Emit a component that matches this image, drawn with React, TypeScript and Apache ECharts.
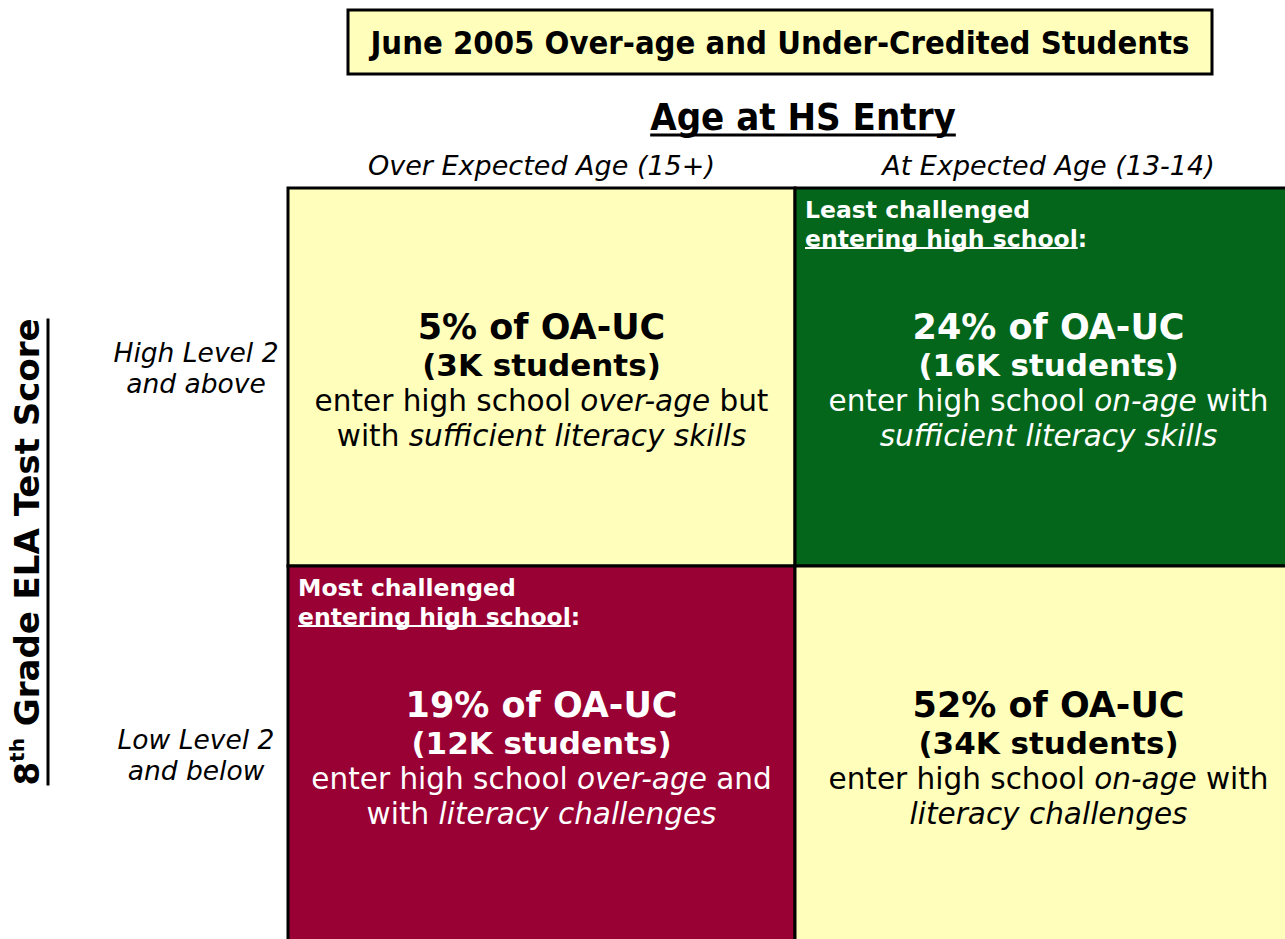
import { useEffect, useRef } from "react";
import * as echarts from "echarts";

// ---------- data ----------
const chartTitle = "June 2005 Over-age and Under-Credited Students";
const xAxisTitle = "Age at HS Entry";
const ageGroups = ["Over Expected Age (15+)", "At Expected Age (13-14)"];
const scoreGroups = ["High Level 2\nand above", "Low Level 2\nand below"];
const cellAge = [0, 1, 0, 1];
const cellScore = [0, 0, 1, 1];
const sharePct = [5, 24, 19, 52];
const studentsK = [3, 16, 12, 34];
const ageStatus = ["over-age", "on-age", "over-age", "on-age"];
const firstLineEnd = ["but", "with", "and", "with"];
const secondLineStart = ["with ", "", "with ", ""];
const literacy = [
  "sufficient literacy skills",
  "sufficient literacy skills",
  "literacy challenges",
  "literacy challenges",
];
const callouts = ["", "Least challenged", "Most challenged", ""];
const calloutSub = "entering high school";
const tones = ["neutral", "best", "worst", "neutral"];

// ---------- styles ----------
const SANS = "'DejaVu Sans', Verdana, sans-serif";
const COND = "'DejaVu Sans Condensed', 'DejaVu Sans', sans-serif";
const PALETTE: Record<string, { fill: string; ink: string }> = {
  neutral: { fill: "#FFFFBB", ink: "#000000" },
  best: { fill: "#03661A", ink: "#FFFFFF" },
  worst: { fill: "#990033", ink: "#FFFFFF" },
};

function measure(text: string, font: string): number {
  const ctx = document.createElement("canvas").getContext("2d");
  if (!ctx) return text.length * 10;
  ctx.font = font;
  return ctx.measureText(text).width;
}

export default function App() {
  const ref = useRef<HTMLDivElement>(null);

  useEffect(() => {
    if (!ref.current) return;
    const chart = echarts.init(ref.current, undefined, { renderer: "svg" });

    const cells = cellAge.map((a, i) => [a, cellScore[i], sharePct[i], studentsK[i]]);

    const renderItem = (params: any, api: any) => {
      const i = params.dataIndex;
      const c = api.coord([api.value(0), api.value(1)]);
      const s = api.size([1, 1]);
      const w = s[0];
      const h = s[1];
      const x0 = c[0] - w / 2;
      const y0 = c[1] - h / 2;
      const { fill, ink } = PALETTE[tones[i]];
      const text =
        `{b|${api.value(2)}% of OA-UC}\n` +
        `{s|(${api.value(3)}K students)}\n` +
        `{n|enter high school }{i|${ageStatus[i]}}{n| ${firstLineEnd[i]}}\n` +
        (secondLineStart[i] ? `{n|${secondLineStart[i]}}` : "") +
        `{i|${literacy[i]}}`;
      const children: any[] = [
        {
          type: "rect",
          shape: { x: x0, y: y0, width: w, height: h },
          style: { fill, stroke: "#000", lineWidth: 3 },
        },
        {
          type: "text",
          x: c[0],
          y: c[1] + 3,
          style: {
            text,
            align: "center",
            verticalAlign: "middle",
            fill: ink,
            fontFamily: SANS,
            rich: {
              b: { fontSize: 35, fontWeight: "bold", fontFamily: SANS, lineHeight: 40, fill: ink },
              s: { fontSize: 31, fontWeight: "bold", fontFamily: SANS, lineHeight: 36, fill: ink },
              n: { fontSize: 29.5, fontFamily: SANS, lineHeight: 35, fill: ink },
              i: { fontSize: 29.5, fontStyle: "italic", fontFamily: SANS, lineHeight: 35, fill: ink },
            },
          },
        },
      ];
      if (callouts[i]) {
        const uw = measure(calloutSub, `bold 23.5px "DejaVu Sans"`);
        children.push(
          {
            type: "text",
            x: x0 + 10,
            y: y0 + 7,
            style: {
              text: `{c|${callouts[i]}}\n{c|${calloutSub}:}`,
              align: "left",
              verticalAlign: "top",
              fill: ink,
              rich: {
                c: { fontSize: 23.5, fontWeight: "bold", fontFamily: SANS, lineHeight: 29, fill: ink },
              },
            },
          },
          {
            type: "line",
            shape: { x1: x0 + 10, y1: y0 + 60, x2: x0 + 10 + uw, y2: y0 + 60 },
            style: { stroke: ink, lineWidth: 2 },
          }
        );
      }
      return { type: "group", children };
    };

    const xNameW = measure(xAxisTitle, `bold 38px "DejaVu Sans Condensed", "DejaVu Sans"`);
    const yNameW =
      measure("8", `bold 34px "DejaVu Sans"`) +
      measure("th", `bold 20px "DejaVu Sans"`) +
      measure(" Grade ELA Test Score", `bold 34px "DejaVu Sans"`);
    const xNameCx = 803;
    const yNameCy = 552;

    const labelRich = {
      t: { fontFamily: SANS, fontStyle: "italic", fontSize: 26.5, lineHeight: 31, color: "#000", align: "center" },
      gap: { fontSize: 10, lineHeight: 18 },
    };

    const option: any = {
      animation: false,
      backgroundColor: "#ffffff",
      grid: {
        left: 288,
        top: 188,
        width: 1014,
        height: 756,
        containLabel: false,
        outerBoundsMode: "none",
      },
      xAxis: {
        type: "category",
        position: "top",
        data: ageGroups,
        axisLine: { show: false },
        axisTick: { show: false },
        splitLine: { show: false },
        axisLabel: {
          color: "#000",
          fontFamily: SANS,
          fontStyle: "italic",
          fontSize: 27,
          margin: 9,
        },
        name: xAxisTitle,
        nameLocation: "middle",
        nameGap: 52,
        nameTextStyle: {
          color: "#000",
          fontFamily: COND,
          fontWeight: "bold",
          fontSize: 38,
          padding: [0, 0, 0, 16],
        },
      },
      yAxis: {
        type: "category",
        inverse: true,
        data: scoreGroups,
        axisLine: { show: false },
        axisTick: { show: false },
        splitLine: { show: false },
        axisLabel: {
          color: "#000",
          align: "center",
          margin: 92,
          formatter: (v: string, idx: number) => {
            const body = v
              .split("\n")
              .map((l) => `{t|${l}}`)
              .join("\n");
            return idx === 0 ? `${body}\n{gap| }` : body;
          },
          rich: labelRich,
        },
        name: "{a|8}{sup|th}{a| Grade ELA Test Score}",
        nameLocation: "middle",
        nameRotate: 90,
        nameGap: 241,
        nameTextStyle: {
          color: "#000",
          fontFamily: SANS,
          fontWeight: "bold",
          fontSize: 34,
          padding: [0, 0, 0, 28],
          rich: {
            a: { fontSize: 34, fontWeight: "bold", fontFamily: SANS, color: "#000", lineHeight: 40 },
            sup: {
              fontSize: 20,
              fontWeight: "bold",
              fontFamily: SANS,
              color: "#000",
              verticalAlign: "top",
              lineHeight: 22,
            },
          },
        },
      },
      series: [
        {
          type: "custom",
          coordinateSystem: "cartesian2d",
          data: cells,
          renderItem,
          silent: true,
          clip: false,
        },
      ],
      graphic: [
        {
          type: "rect",
          shape: { x: 348, y: 10, width: 864, height: 64 },
          style: { fill: "#FFFFBB", stroke: "#000", lineWidth: 3 },
        },
        {
          type: "text",
          x: 780,
          y: 43,
          style: {
            text: chartTitle,
            fontFamily: COND,
            fontWeight: "bold",
            fontSize: 32.5,
            fill: "#000",
            align: "center",
            verticalAlign: "middle",
          },
        },
        {
          type: "line",
          shape: { x1: xNameCx - xNameW / 2, y1: 135, x2: xNameCx + xNameW / 2, y2: 135 },
          style: { stroke: "#000", lineWidth: 3 },
        },
        {
          type: "line",
          shape: { x1: 48, y1: yNameCy - yNameW / 2, x2: 48, y2: yNameCy + yNameW / 2 },
          style: { stroke: "#000", lineWidth: 3 },
        },
      ],
    };

    chart.setOption(option);
    return () => chart.dispose();
  }, []);

  return (
    <div
      ref={ref}
      style={{ position: "absolute", left: 0, top: 0, width: 1285, height: 939, background: "#fff" }}
    />
  );
}
